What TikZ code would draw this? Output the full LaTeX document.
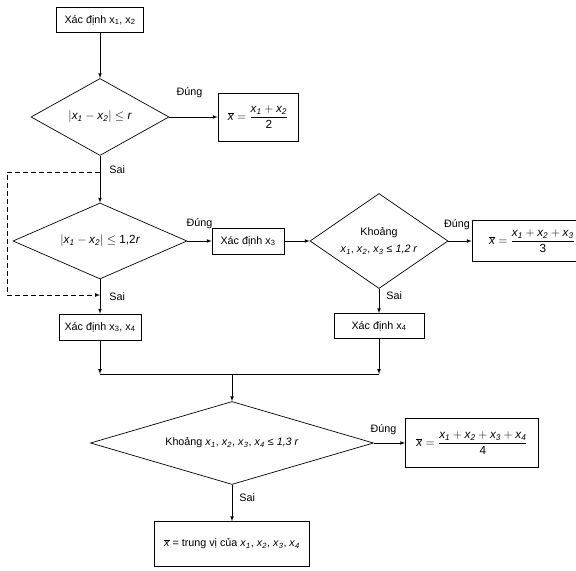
\documentclass[tikz,border=0pt]{standalone}
\usepackage{fontspec}
\setmainfont{Liberation Sans}
\usetikzlibrary{shapes.geometric,positioning}

\tikzstyle{block} = [draw, rectangle, text centered, inner sep=2pt]
\tikzstyle{decision} = [draw, diamond, text centered, inner sep=0pt]
\tikzstyle{formula} = [font=\fontsize{11.8}{14}\selectfont]
\tikzstyle{arrowtext} = [inner sep=1pt]
\tikzstyle{arrow} = [draw, -latex]
\newcommand{\xs}[1]{x\textsubscript{#1}}
\newcommand{\xit}[1]{\textit{x}\textsubscript{\textit{#1}}}
\newcommand{\xbar}{$\overline{\textit{x}}$}

\begin{document}
\begin{tikzpicture}[x=1bp, y=1bp, node distance=100bp, line width=0.7pt, font=\fontsize{10.8}{13}\selectfont]
	\useasboundingbox (0,0) rectangle (576,571);
	\clip (0,0) rectangle (576,571);

	\node [block, minimum width=87bp, minimum height=25bp] (start) at (100,551) {Xác định \xs1, \xs2};
	\node [decision, formula, aspect=1.8, below of=start, node distance=97bp, minimum width=138bp, minimum height=77bp] (cond1) {$\left|\xit1 - \xit2\right| \leq \textit{r}$};
	\node [block, formula, right of=cond1, node distance=158bp, minimum width=80bp, minimum height=48bp] (avgtwo) {$\displaystyle\overline{\textit{x}} = \frac{\xit1 + \xit2}{\mbox{2}}$};
	\node [decision, formula, aspect=2.3, below of=cond1, node distance=124bp, minimum width=174bp, minimum height=76bp] (cond2) {$\left|\xit1 - \xit2\right| \leq \mbox{1,2}\textit{r}$};
	\node [block, right of=cond2, node distance=148bp, minimum width=72bp, minimum height=26bp] (fixthree) {Xác định \xs3};
	\node [decision, aspect=1.45, right of=fixthree, node distance=131bp, minimum width=138bp, minimum height=95bp, align=center] (cond3) {Khoảng\\[4pt]\xit1, \xit2, \xit3 \textit{≤ 1,2 r}};
	\node [block, formula, right of=cond3, node distance=153bp, minimum width=120bp, minimum height=41bp] (avgthree) {$\displaystyle\overline{\textit{x}} = \frac{\xit1 + \xit2 + \xit3}{\mbox{3}}$};
	\node [block, below of=cond3, node distance=85bp, minimum width=90bp, minimum height=25bp] (fixfour) {Xác định \xs4};
	\node [block, below of=cond2, node distance=86bp, minimum width=82bp, minimum height=26bp] (fixboth) {Xác định \xs3, \xs4};
	\coordinate (merge) at (232,197);
	\node [decision, aspect=3.4, below of=merge, node distance=69bp, minimum width=283bp, minimum height=83bp] (cond4) {Khoảng \xit1, \xit2, \xit3, \xit4 \textit{≤ 1,3 r}};
	\node [block, formula, right of=cond4, node distance=240bp, minimum width=133bp, minimum height=49bp] (avgfour) {$\displaystyle\overline{\textit{x}} = \frac{\xit1 + \xit2 + \xit3 + \xit4}{\mbox{4}}$};
	\node [block, below of=cond4, node distance=101bp, minimum width=155bp, minimum height=45bp] (median) {\xbar{} = trung vị của \xit1, \xit2, \xit3, \xit4};

	\draw [arrow] (start) -- (cond1);
	\draw [arrow] (cond1) -- node[arrowtext, above=18bp, xshift=-4bp, name=yes1] {Đúng} (avgtwo);
	\draw [arrow] (cond1) -- node[arrowtext, right=8bp, pos=0.3, name=no1] {Sai} (cond2);
	\draw [arrow] (cond2) -- node[arrowtext, above=11bp, name=yes2] {Đúng} (fixthree);
	\draw [arrow] (cond2) -- node[arrowtext, right=8bp, name=no2] {Sai} (fixboth);
	\draw [arrow] (fixthree) -- (cond3);
	\draw [arrow] (cond3) -- node[arrowtext, above=10bp, xshift=-3bp, name=yes3] {Đúng} (avgthree);
	\draw [arrow] (cond3) -- node[arrowtext, right=6bp, pos=0.3, name=no3] {Sai} (fixfour);

	% skip the second test
	\coordinate (skip) at (100,399);
	\coordinate (detour) at (7,399);
	\coordinate (land) at (100,276);
	\draw [arrow, dash pattern=on 5bp off 3bp] (skip) -- (detour) |- (land);

	% join
	\draw [arrow] (fixboth) -- (fixboth |- merge);
	\draw [arrow] (fixfour) -- (fixfour |- merge);
	\draw (fixboth |- merge) -- (fixfour |- merge);
	\draw [arrow] (merge) -- (cond4);

	\draw [arrow] (cond4) -- node[arrowtext, above=7bp, xshift=-6bp, name=yes4] {Đúng} (avgfour);
	\draw [arrow] (cond4) -- node[arrowtext, right=6bp, pos=0.36, name=no4] {Sai} (median);
\end{tikzpicture}
\end{document}
